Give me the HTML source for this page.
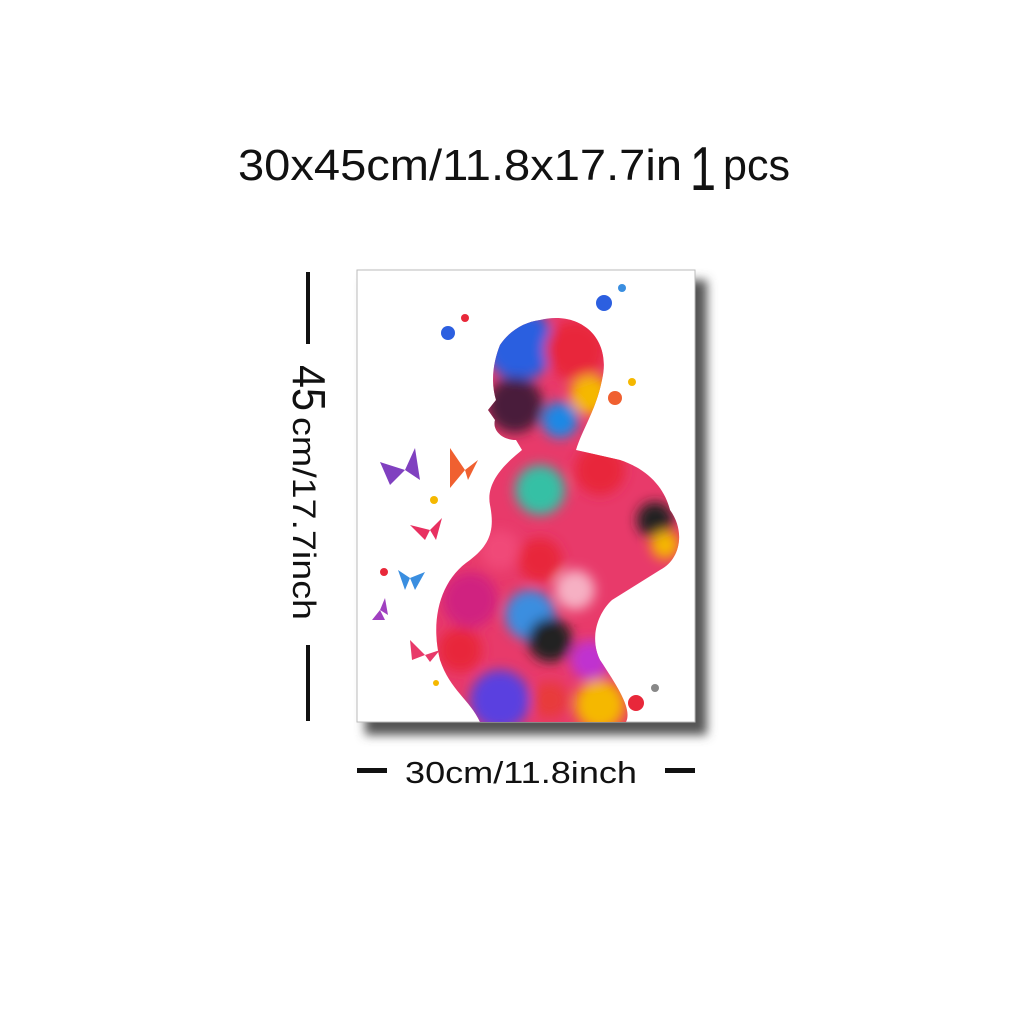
<!DOCTYPE html>
<html><head><meta charset="utf-8"><style>
html,body{margin:0;padding:0;background:#fff;width:1024px;height:1024px;overflow:hidden}
</style></head><body>
<svg width="1024" height="1024" viewBox="0 0 1024 1024">
<defs>
<filter id="blur" x="-20%" y="-20%" width="140%" height="140%"><feGaussianBlur stdDeviation="5"/></filter>
<filter id="soft"><feGaussianBlur stdDeviation="6"/></filter>
<clipPath id="body">
<path d="M540,320 C580,310 612,338 602,380 C596,410 582,430 576,450 L620,460 C650,470 665,490 670,510 C686,532 680,560 660,570 L612,600 C596,615 590,640 600,660 C620,690 632,710 626,722 L480,722 C470,700 450,690 440,660 C430,620 440,580 470,560 C490,545 495,530 490,505 C485,480 510,460 522,450 L516,440 C502,440 492,430 495,420 L488,410 L496,400 C490,380 494,360 500,345 C510,330 525,322 540,320 Z"/>
</clipPath>
</defs>
<text x="238" y="180" font-family="Liberation Sans, sans-serif" font-size="44" fill="#111"><tspan textLength="444" lengthAdjust="spacingAndGlyphs">30x45cm/11.8x17.7in</tspan><tspan x="690" font-size="62" dy="10" textLength="26" lengthAdjust="spacingAndGlyphs">1</tspan><tspan x="723" dy="-10" textLength="67" lengthAdjust="spacingAndGlyphs">pcs</tspan></text>

<rect x="365" y="280" width="342" height="455" fill="#555" filter="url(#blur)"/>
<rect x="357" y="270" width="338" height="452" fill="#fff" stroke="#bbb" stroke-width="1"/>

<g clip-path="url(#body)">
<rect x="420" y="300" width="280" height="430" fill="#e83a6a"/>
<g filter="url(#soft)">
<circle cx="520" cy="345" r="35" fill="#2c5fe0"/>
<circle cx="575" cy="350" r="30" fill="#e8283a"/>
<circle cx="590" cy="395" r="20" fill="#f5b800"/>
<circle cx="515" cy="405" r="28" fill="#4a1e3a"/>
<circle cx="560" cy="420" r="18" fill="#1e88e5"/>
<circle cx="600" cy="470" r="25" fill="#e8283a"/>
<circle cx="540" cy="490" r="25" fill="#36c0a5"/>
<circle cx="655" cy="520" r="18" fill="#222"/>
<circle cx="665" cy="545" r="14" fill="#f5b800"/>
<circle cx="500" cy="550" r="20" fill="#f04878"/>
<circle cx="540" cy="560" r="22" fill="#e8283a"/>
<circle cx="470" cy="600" r="28" fill="#d02080"/>
<circle cx="530" cy="615" r="25" fill="#3a8ee0"/>
<circle cx="575" cy="590" r="20" fill="#fff" opacity=".6"/>
<circle cx="460" cy="650" r="22" fill="#e8283a"/>
<circle cx="550" cy="640" r="22" fill="#222"/>
<circle cx="590" cy="660" r="20" fill="#c030d0"/>
<circle cx="500" cy="700" r="30" fill="#5a40e0"/>
<circle cx="600" cy="705" r="25" fill="#f5b800"/>
<circle cx="550" cy="700" r="18" fill="#e83a3a"/>
</g>
</g>

<g>
<path d="M405,470 L380,462 L390,485 Z M405,470 L415,448 L420,480 Z" fill="#8040c0"/>
<path d="M465,470 L450,448 L450,488 Z M465,470 L478,460 L468,480 Z" fill="#f06030"/>
<path d="M430,530 L410,525 L425,540 Z M430,530 L442,518 L436,540 Z" fill="#e83060"/>
<path d="M410,578 L398,570 L405,590 Z M410,578 L425,572 L415,590 Z" fill="#3a8ee0"/>
<path d="M380,610 L372,620 L385,620 Z M380,610 L385,598 L388,615 Z" fill="#a040c0"/>
<path d="M425,655 L410,640 L412,660 Z M425,655 L440,650 L430,662 Z" fill="#e83a6a"/>
</g>
<g>
<circle cx="604" cy="303" r="8" fill="#2c5fe0"/><circle cx="622" cy="288" r="4" fill="#3a8ee0"/>
<circle cx="448" cy="333" r="7" fill="#2c5fe0"/><circle cx="465" cy="318" r="4" fill="#e8283a"/>
<circle cx="615" cy="398" r="7" fill="#f06030"/><circle cx="632" cy="382" r="4" fill="#f5b800"/>
<circle cx="434" cy="500" r="4" fill="#f5b800"/><circle cx="384" cy="572" r="4" fill="#e8283a"/>
<circle cx="636" cy="703" r="8" fill="#e8283a"/><circle cx="655" cy="688" r="4" fill="#888"/>
<circle cx="436" cy="683" r="3" fill="#f5b800"/>
</g>

<g>
<rect x="306" y="272" width="4" height="72" fill="#111"/>
<rect x="306" y="645" width="4" height="76" fill="#111"/>
<text transform="translate(293,365) rotate(90)" font-family="Liberation Sans, sans-serif" font-size="32" fill="#111"><tspan font-size="46" textLength="46" lengthAdjust="spacingAndGlyphs">45</tspan><tspan x="52" textLength="203" lengthAdjust="spacingAndGlyphs">cm/17.7inch</tspan></text>
</g>
<g>
<rect x="357" y="768" width="30" height="5" fill="#111"/>
<rect x="665" y="768" width="30" height="5" fill="#111"/>
<text x="405" y="783" font-family="Liberation Sans, sans-serif" font-size="31" fill="#111" textLength="232" lengthAdjust="spacingAndGlyphs">30cm/11.8inch</text>
</g>
</svg>
</body></html>
